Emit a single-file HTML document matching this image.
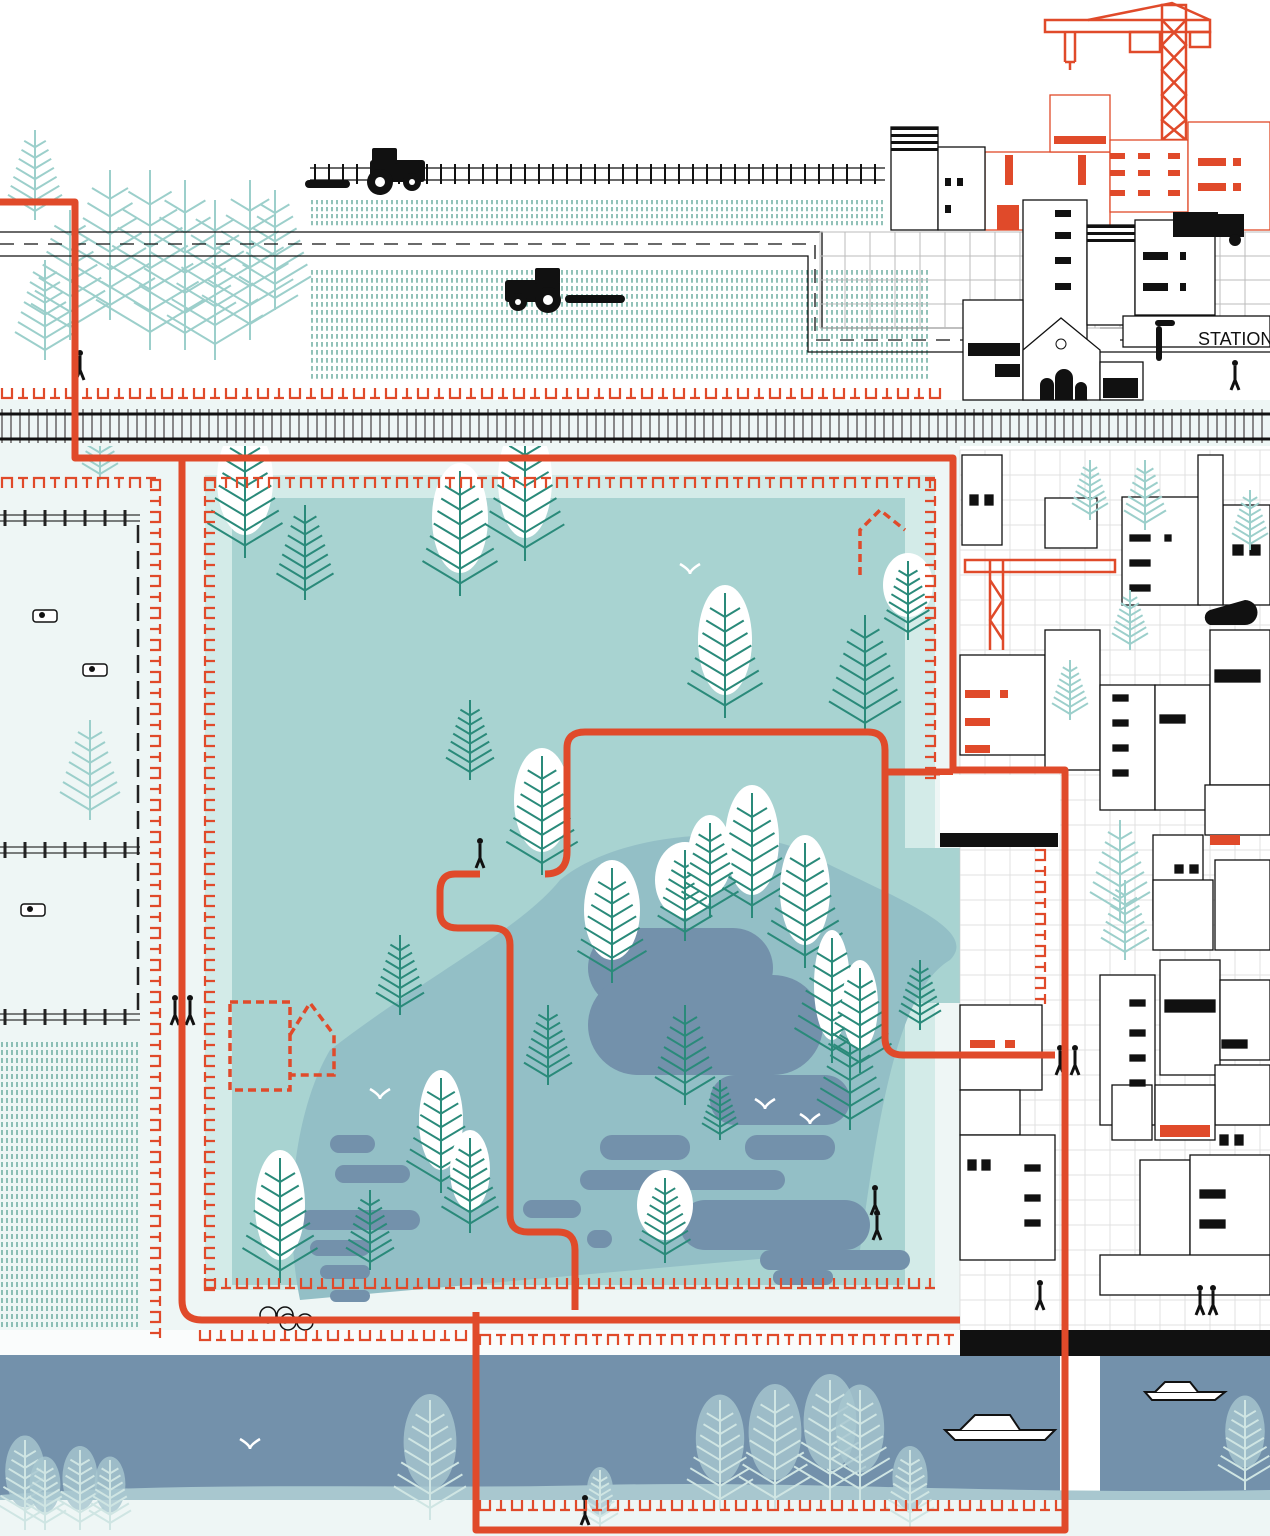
<!DOCTYPE html>
<html><head><meta charset="utf-8"><style>
html,body{margin:0;padding:0;background:#fff;}
svg{display:block;}
text{font-family:"Liberation Sans",sans-serif;}
</style></head><body>
<svg id="s" width="1270" height="1536" viewBox="0 0 1270 1536" xmlns="http://www.w3.org/2000/svg">
<rect width="1270" height="1536" fill="#fff"/>
<rect x="0" y="445" width="960" height="910" fill="#eef6f5"/>
<rect x="0" y="1490" width="1270" height="46" fill="#eef6f5"/>
<g id="fieldL"></g>
<rect x="205" y="475" width="730" height="815" fill="#d3ebe8"/>
<path d="M232 498 H905 V1000 H1030 V862 H890 V780 H905 V1285 H232 Z" fill="#a8d3d1"/>
<rect x="890" y="848" width="140" height="155" fill="#a8d3d1"/>
<path d="M330 1050 C420 980 520 930 560 880 C620 830 760 820 820 860 C900 900 980 930 950 960 C900 990 880 1100 860 1250 L300 1300 C280 1200 300 1100 330 1050 Z" fill="#93bfc6"/>
<g fill="#7391ab">
<rect x="588" y="928" width="185" height="80" rx="40"/>
<rect x="588" y="975" width="235" height="100" rx="50"/>
<rect x="710" y="1075" width="140" height="50" rx="25"/>
<rect x="600" y="1135" width="90" height="25" rx="12"/>
<rect x="745" y="1135" width="90" height="25" rx="12"/>
<rect x="580" y="1170" width="205" height="20" rx="10"/>
<rect x="523" y="1200" width="58" height="18" rx="9"/>
<rect x="680" y="1200" width="190" height="50" rx="25"/>
<rect x="760" y="1250" width="150" height="20" rx="10"/>
<rect x="773" y="1270" width="60" height="15" rx="7"/>
<rect x="587" y="1230" width="25" height="18" rx="9"/>
<rect x="330" y="1135" width="45" height="18" rx="9"/>
<rect x="335" y="1165" width="75" height="18" rx="9"/>
<rect x="300" y="1210" width="120" height="20" rx="10"/>
<rect x="310" y="1240" width="60" height="16" rx="8"/>
<rect x="320" y="1265" width="50" height="14" rx="7"/>
<rect x="330" y="1290" width="40" height="12" rx="6"/>
</g>
<rect x="0" y="1355" width="1060" height="140" fill="#7391ab"/>
<rect x="1100" y="1355" width="170" height="140" fill="#7391ab"/>
<path d="M0 1495 C200 1480 400 1490 600 1485 C800 1480 1000 1495 1270 1490 V1500 H0Z" fill="#a8c7cf"/>
<rect x="0" y="1330" width="960" height="25" fill="#fff" opacity="0.7"/>
<rect x="960" y="1330" width="310" height="26" fill="#111"/>
<rect x="960" y="450" width="310" height="880" fill="#fff"/>
<g id="rgrid" stroke="#ccc" stroke-width="1"></g>
<g id="bld" fill="#fff" stroke="#111" stroke-width="1.3"></g>
<g id="topfield"></g>
<g id="trees"></g>
<rect x="0" y="400" width="1270" height="46" fill="#eef6f5"/>
<g id="rail"></g>
<g id="fence" fill="none" stroke="#e04a2a" stroke-width="2.2"></g>
<g stroke="#111" stroke-width="1.3" fill="none">
<path d="M0 232 H822 V328 H963"/>
<path d="M0 256 H808 V352 H963"/>
<path d="M0 244 H815 V340 H963" stroke-dasharray="14 10"/>
<path d="M1120 340 H1270" stroke-dasharray="14 10"/>
<path d="M1100 328 H1270 M1100 352 H1270"/>
</g>
<g fill="none" stroke="#e04a2a" stroke-width="7" stroke-linejoin="round">
<path d="M0 202 H75 V458 H953 V770 H1065 V1530 H476 V1312"/>
<path d="M182 458 V1300 Q182 1320 202 1320 H960"/>
<path d="M480 874 H455 Q440 874 440 892 V912 Q440 928 458 928 H493 Q510 928 510 945 V1215 Q510 1232 528 1232 H558 Q575 1232 575 1250 V1310"/>
<path d="M545 874 Q567 874 567 852 V748 Q567 732 585 732 H868 Q885 732 885 750 V1038 Q885 1055 903 1055 H1055"/>
<path d="M885 772 H953"/>
</g>
<g fill="none" stroke="#e04a2a" stroke-width="3.5" stroke-dasharray="8 5">
<path d="M230 1002 H290 V1090 H230 Z"/>
<path d="M290 1035 L310 1003 L334 1035 V1075 H290"/>
<path d="M860 575 V530 L880 510 L905 530"/>
</g>
<g fill="none" stroke="#e04a2a" stroke-width="2.5">
<rect x="1045" y="20" width="165" height="12"/>
<path d="M1088 20 L1172 3 L1210 20"/>
<rect x="1162" y="5" width="24" height="135"/>
<path d="M1162 20 L1186 45 L1162 70 L1186 95 L1162 120 L1186 140 M1186 20 L1162 45 L1186 70 L1162 95 L1186 120 L1162 140"/>
<path d="M1065 32 V62 M1075 32 V62 M1065 62 H1075 M1070 62 V70"/>
<rect x="1130" y="32" width="30" height="20"/><rect x="1190" y="32" width="20" height="15"/>
</g>
<g stroke="#e04a2a" stroke-width="1.3" fill="#fff">
<rect x="985" y="152" width="125" height="78"/>
<rect x="1050" y="95" width="60" height="57"/>
<rect x="1110" y="140" width="78" height="72"/>
<rect x="1188" y="122" width="82" height="108"/>
</g>
<g fill="#e04a2a">
<rect x="1054" y="136" width="52" height="8"/>
<rect x="1005" y="155" width="8" height="30"/><rect x="1078" y="155" width="8" height="30"/><rect x="997" y="205" width="22" height="25"/>
<rect x="1110" y="153" width="15" height="6"/><rect x="1138" y="153" width="12" height="6"/><rect x="1168" y="153" width="12" height="6"/>
<rect x="1110" y="170" width="15" height="6"/><rect x="1138" y="170" width="12" height="6"/><rect x="1168" y="170" width="12" height="6"/>
<rect x="1110" y="190" width="15" height="6"/><rect x="1138" y="190" width="12" height="6"/><rect x="1168" y="190" width="12" height="6"/>
<rect x="1198" y="158" width="28" height="8"/><rect x="1233" y="158" width="8" height="8"/>
<rect x="1198" y="183" width="28" height="8"/><rect x="1233" y="183" width="8" height="8"/>
</g>
<g id="topgrid" stroke="#bbb" stroke-width="1"></g>
<g fill="#fff" stroke="#111" stroke-width="1.3">
<rect x="891" y="127" width="47" height="103"/>
<rect x="938" y="147" width="47" height="83"/>
<rect x="1023" y="200" width="64" height="200"/>
<rect x="1087" y="225" width="48" height="100"/>
<rect x="1135" y="220" width="80" height="95"/>
<rect x="963" y="300" width="60" height="100"/>
<path d="M1023 350 L1061 318 L1100 350 V400 H1023 Z"/>
<rect x="1100" y="362" width="43" height="38"/>
<rect x="1123" y="316" width="147" height="31"/>
</g>
<g fill="#111">
<rect x="891" y="127" width="47" height="3"/><rect x="891" y="134" width="47" height="3"/><rect x="891" y="141" width="47" height="3"/><rect x="891" y="148" width="47" height="3"/>
<rect x="1087" y="225" width="48" height="3"/><rect x="1087" y="232" width="48" height="3"/><rect x="1087" y="239" width="48" height="3"/>
<rect x="945" y="178" width="6" height="8"/><rect x="957" y="178" width="6" height="8"/><rect x="945" y="205" width="6" height="8"/>
<rect x="1055" y="210" width="16" height="7"/><rect x="1055" y="232" width="16" height="7"/><rect x="1055" y="257" width="16" height="7"/><rect x="1055" y="283" width="16" height="7"/>
<rect x="1143" y="252" width="25" height="8"/><rect x="1180" y="252" width="6" height="8"/><rect x="1143" y="283" width="25" height="8"/><rect x="1180" y="283" width="6" height="8"/>
<rect x="968" y="343" width="52" height="13"/><rect x="995" y="364" width="25" height="13"/>
<path d="M1040 400 V385 a7 7 0 0 1 14 0 V400Z M1055 400 V378 a9 9 0 0 1 18 0 V400Z M1075 400 V388 a6 6 0 0 1 12 0 V400Z"/>
<rect x="1103" y="378" width="35" height="20"/>
<rect x="1173" y="212" width="45" height="25"/><rect x="1218" y="214" width="26" height="23"/><circle cx="1235" cy="240" r="6"/>
<rect x="1155" y="320" width="20" height="6" rx="3"/><rect x="1156" y="326" width="6" height="35" rx="3"/>
</g>
<text x="1198" y="345" font-size="18" fill="#111">STATION</text>
<circle cx="1061" cy="344" r="5" fill="#fff" stroke="#111"/>
<rect x="940" y="775" width="120" height="60" fill="#fff"/>
<rect x="940" y="833" width="118" height="14" fill="#111"/>
<g fill="#111">
<rect x="370" y="160" width="55" height="22" rx="3"/><rect x="372" y="148" width="25" height="16" rx="2"/>
<circle cx="380" cy="182" r="13"/><circle cx="412" cy="182" r="9"/><rect x="305" y="180" width="45" height="8" rx="4"/>
<rect x="505" y="280" width="55" height="22" rx="3"/><rect x="535" y="268" width="25" height="16" rx="2"/>
<circle cx="548" cy="300" r="13"/><circle cx="518" cy="302" r="9"/><rect x="565" y="295" width="60" height="8" rx="4"/>
</g>
<g fill="#fff"><circle cx="380" cy="182" r="5"/><circle cx="548" cy="300" r="5"/><circle cx="412" cy="182" r="3"/><circle cx="518" cy="302" r="3"/></g>
<g fill="#fff" stroke="#111" stroke-width="2">
<path d="M945 1430 H1055 L1045 1440 H955 Z"/><path d="M960 1430 L975 1415 H1010 L1020 1430"/>
<path d="M1145 1392 H1225 L1215 1400 H1152 Z"/><path d="M1155 1392 L1165 1382 H1190 L1198 1392"/>
</g>
</svg>
<script>
const NS="http://www.w3.org/2000/svg";
function el(p,t,a){const e=document.createElementNS(NS,t);for(const k in a)e.setAttribute(k,a[k]);document.getElementById(p).appendChild(e);return e;}
function field(x0,y0,x1,y1,dx,dy){let d="";for(let x=x0;x<x1;x+=dx){for(let y=y0;y<y1;y+=dy){d+=`M${x} ${y}v${dy*0.6}`;}}el("topfield","path",{d,stroke:"#4a9a8a","stroke-width":"1.2"});}
field(312,200,885,222,5,7);
field(312,270,930,378,5,8);
(function(){let d="";for(let x=2;x<140;x+=5){for(let y=1042;y<1330;y+=8){d+=`M${x} ${y}v5`;}}el("fieldL","path",{d,stroke:"#4a9a8a","stroke-width":"1.2"});})();
el("topfield","path",{d:"M310 168H885M310 180H885",stroke:"#111","stroke-width":"1.2"});
(function(){let d="";for(let x=315;x<885;x+=14)d+=`M${x} 164v20`;el("topfield","path",{d,stroke:"#111","stroke-width":"2"});})();
(function(){let d="";for(let x=2;x<1270;x+=9)d+=`M${x} 409v34`;el("rail","path",{d,stroke:"#888","stroke-width":"2"});
el("rail","path",{d:"M0 414H1270M0 439H1270",stroke:"#111","stroke-width":"3"});})();
[518,850,1017].forEach(y=>{el("rail","path",{d:`M0 ${y-3}H140M0 ${y+3}H140`,stroke:"#333","stroke-width":"1.2"});let d="";for(let x=5;x<140;x+=20)d+=`M${x} ${y-8}v16`;el("rail","path",{d,stroke:"#222","stroke-width":"3"});});
el("rail","path",{d:"M138 525V1010",stroke:"#222","stroke-width":"2.5","stroke-dasharray":"18 8"});
function tickH(x0,x1,y,dir){let d="";let i=0;for(let x=x0;x<x1;x+=16,i++){if(i%2==0)d+=`M${x} ${y+dir*10}v${-dir*10}h10v${dir*10}`;else d+=`M${x} ${y}h10M${x+5} ${y}v${dir*10}`;}el("fence","path",{d});}
function tickV(x,y0,y1,dir){let d="";let i=0;for(let y=y0;y<y1;y+=16,i++){if(i%2==0)d+=`M${x+dir*10} ${y}h${-dir*10}v10h${dir*10}`;else d+=`M${x} ${y}v10M${x} ${y+5}h${dir*10}`;}el("fence","path",{d});}
tickH(2,935,398,-1);
tickH(2,160,478,1);tickH(205,935,478,1);
tickV(160,480,1335,-1);tickV(205,480,1290,1);tickV(935,480,770,-1);
tickH(205,935,1288,-1);tickH(480,960,1335,1);tickH(200,470,1340,-1);
tickV(1045,850,1000,-1);tickH(480,1060,1510,-1);
(function(){let d="";for(let x=960;x<1270;x+=25)d+=`M${x} 450V1330`;for(let y=450;y<1330;y+=25)d+=`M960 ${y}H1270`;el("rgrid","path",{d,opacity:"0.6"});
let e="";for(let x=820;x<1270;x+=25)e+=`M${x} 232V328`;for(let y=232;y<330;y+=24)e+=`M820 ${y}H1270`;el("topgrid","path",{d:e});})();
const B=[[962,455,40,90],[1045,498,52,50],[1122,497,78,108],[1223,505,47,100],[1198,455,25,150],[960,655,85,100],[1045,630,55,140],[1100,685,55,125],[1155,685,55,125],[1210,630,60,155],[1205,785,65,50],[1153,835,50,85],[1153,880,60,70],[1215,860,55,90],[1100,975,55,150],[1160,960,60,115],[1220,980,50,80],[1215,1065,55,60],[1112,1085,40,55],[1155,1085,60,55],[1140,1160,50,110],[1190,1155,80,115],[960,1005,82,85],[960,1090,60,45],[960,1135,95,125],[1100,1255,170,40]];
B.forEach(b=>el("bld","rect",{x:b[0],y:b[1],width:b[2],height:b[3]}));
const W=[[970,495,8,10],[985,495,8,10],[1130,535,20,6],[1130,560,20,6],[1130,585,20,6],[1165,535,6,6],[1233,545,10,10],[1250,545,10,10],[1113,695,15,6],[1113,720,15,6],[1113,745,15,6],[1113,770,15,6],[1215,670,45,12],[1160,715,25,8],[1130,1000,15,6],[1130,1030,15,6],[1130,1055,15,6],[1130,1080,15,6],[1165,1000,50,12],[1222,1040,25,8],[968,1160,8,10],[982,1160,8,10],[1025,1165,15,6],[1025,1195,15,6],[1025,1220,15,6],[1200,1190,25,8],[1200,1220,25,8],[1220,1135,8,10],[1235,1135,8,10],[1175,865,8,8],[1190,865,8,8]];
W.forEach(w=>el("bld","rect",{x:w[0],y:w[1],width:w[2],height:w[3],fill:"#111"}));
const R=[[965,690,25,8],[965,718,25,8],[965,745,25,8],[1000,690,8,8],[970,1040,25,8],[1005,1040,10,8],[1160,1125,50,12],[1210,835,30,10]];
R.forEach(w=>el("bld","rect",{x:w[0],y:w[1],width:w[2],height:w[3],fill:"#e04a2a",stroke:"none"}));
el("bld","path",{d:"M965 560H1115V572H965ZM990 560V650M1003 560V650M990 580L1003 600L990 620L1003 640",stroke:"#e04a2a",fill:"none","stroke-width":"2.5"});
el("bld","path",{d:"M1245 600a8 8 0 0 1 0 25h-35a8 8 0 0 1 0-15z",fill:"#111",stroke:"none"});
function pine(x,y,h,col,sw){const g=el("trees","g",{stroke:col,"stroke-width":sw||2,fill:"none"});let d=`M${x} ${y}V${y+h}`;for(let i=0;i<7;i++){const yy=y+h*0.12+i*h*0.1;const w=h*0.12+i*h*0.03;d+=`M${x} ${yy+w*0.6}L${x-w} ${yy}M${x} ${yy+w*0.6}L${x+w} ${yy}`;}const p=document.createElementNS(NS,"path");p.setAttribute("d",d);g.appendChild(p);}
function wtree(cx,cy,rx,ry){el("trees","ellipse",{cx,cy,rx,ry,fill:"#fff"});pine(cx,cy-ry+8,ry*2+15,"#2a8a7a",2);}
[[35,130,90],[70,210,130],[110,170,150],[150,170,180],[185,180,170],[215,200,160],[250,180,160],[275,190,120],[45,260,100],[100,420,60]].forEach(t=>pine(t[0],t[1],t[2],"#9ccfcb",2));
[[90,720,100],[1120,820,100],[1125,880,80],[1250,490,60],[1130,590,60],[1070,660,60],[1090,460,60],[1145,460,70]].forEach(t=>pine(t[0],t[1],t[2],"#9ccfcb",2));
[[25,1440,90],[80,1450,80],[110,1460,70],[430,1400,120],[720,1400,110],[775,1390,120],[830,1380,120],[860,1390,110],[910,1450,80],[1245,1400,90],[600,1470,60],[45,1460,70]].forEach(t=>{el("trees","ellipse",{cx:t[0],cy:t[1]+t[2]*0.35,rx:t[2]*0.22,ry:t[2]*0.4,fill:"#a8c7cf",opacity:"0.8"});pine(t[0],t[1],t[2],"#cfe5e3",2);});
[[305,505,95],[470,700,80],[400,935,80],[548,1005,80],[685,1005,100],[865,615,120],[920,960,70],[370,1190,80],[850,1020,110],[720,1080,60]].forEach(t=>pine(t[0],t[1],t[2],"#2a8a7a",2));
[[245,480,28,55],[460,518,28,55],[525,480,27,58],[725,640,27,55],[908,585,25,32],[542,800,28,52],[612,910,28,50],[685,880,30,38],[752,840,27,55],[805,890,25,55],[710,855,22,40],[832,985,18,55],[860,1005,18,45],[441,1120,22,50],[470,1170,20,40],[280,1205,25,55],[665,1205,28,35]].forEach(t=>wtree(...t));
[[80,350],[480,838],[175,995],[190,995],[1060,1045],[1075,1045],[875,1185],[877,1210],[1235,360],[585,1495],[1040,1280],[1200,1285],[1213,1285]].forEach(p=>{el("trees","circle",{cx:p[0],cy:p[1]+3,r:3,fill:"#111"});el("trees","path",{d:`M${p[0]} ${p[1]+6}v14l-4 10M${p[0]} ${p[1]+20}l4 10`,stroke:"#111","stroke-width":"3",fill:"none"});});
[[268,1315],[285,1315],[288,1322],[305,1322]].forEach(c=>el("trees","circle",{cx:c[0],cy:c[1],r:8,fill:"none",stroke:"#111","stroke-width":"1.5"}));
[[690,570],[380,1095],[250,1445],[765,1105],[810,1120]].forEach(b=>el("trees","path",{d:`M${b[0]-10} ${b[1]-6}Q${b[0]} ${b[1]} ${b[0]} ${b[1]+4}Q${b[0]} ${b[1]} ${b[0]+10} ${b[1]-6}`,stroke:"#fff","stroke-width":"2.5",fill:"none"}));
[[45,616],[95,670],[33,910]].forEach(c=>{el("trees","rect",{x:c[0]-12,y:c[1]-6,width:24,height:12,rx:3,fill:"#fff",stroke:"#111","stroke-width":"1.5"});el("trees","circle",{cx:c[0]-3,cy:c[1]-1,r:3,fill:"#111"});});
</script>
</body></html>
